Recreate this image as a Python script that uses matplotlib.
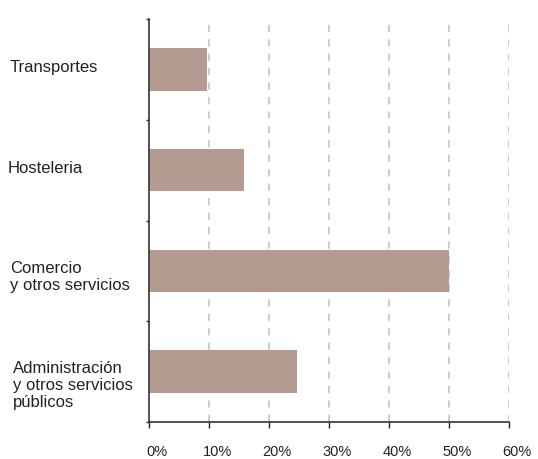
import matplotlib
matplotlib.use("Agg")
import matplotlib.pyplot as plt
import matplotlib.transforms as mtransforms

plt.rcParams["font.family"] = ["Liberation Sans", "DejaVu Sans"]

categories = ["Transportes", "Hosteleria", "Comercio\ny otros servicios",
              "Administración\ny otros servicios\npúblicos"]
shares = [9.6, 15.7, 50.0, 24.6]
xticks = [0, 10, 20, 30, 40, 50, 60]
xticklabels = ["0%", "10%", "20%", "30%", "40%", "50%", "60%"]
label_x_px = [10, 8, 10, 13]

BAR = "#b59b8f"

fig = plt.figure(figsize=(5.38, 4.6), dpi=100)
ax = fig.add_axes([0.2775, 0.0804, 0.6692, 0.8761])

ypos = list(range(len(categories)))
ax.barh(ypos, shares, height=0.42, color=BAR, zorder=2)
ax.set_xlim(0, 60)
ax.set_ylim(3.5, -0.5)

# dashed vertical gridlines
for x in xticks[1:]:
    ax.axvline(x, color="#c8c8c8", lw=1.3, ls=(0, (4, 4)), zorder=1)

for s in ("top", "right"):
    ax.spines[s].set_visible(False)
ax.spines["left"].set_color("#333333")
ax.spines["bottom"].set_color("#333333")
ax.spines["left"].set_linewidth(1.2)
ax.spines["bottom"].set_linewidth(1.2)

ax.set_xticks(xticks)
ax.set_xticklabels(xticklabels, fontsize=10.5, color="#222222")
ax.tick_params(axis="x", length=4, width=1, color="#222222", pad=12)
offset = mtransforms.ScaledTranslation(8 / 100, 0, fig.dpi_scale_trans)
for lab in ax.get_xticklabels():
    lab.set_transform(lab.get_transform() + offset)

ax.set_yticks([-0.5, 0.5, 1.5, 2.5, 3.5])
ax.set_yticklabels([])
ax.tick_params(axis="y", length=2, width=1, color="#333333")

# category labels, left-aligned near the figure edge
trans = mtransforms.blended_transform_factory(fig.transFigure, ax.transData)
for y, (lab, xp) in enumerate(zip(categories, label_x_px)):
    ax.text(xp / 538, y + 0.08 * lab.count("\n") - 0.03, lab,
            transform=trans, ha="left", va="center",
            fontsize=12, color="#222222", linespacing=1.15)

fig.savefig("out.png", dpi=100)
